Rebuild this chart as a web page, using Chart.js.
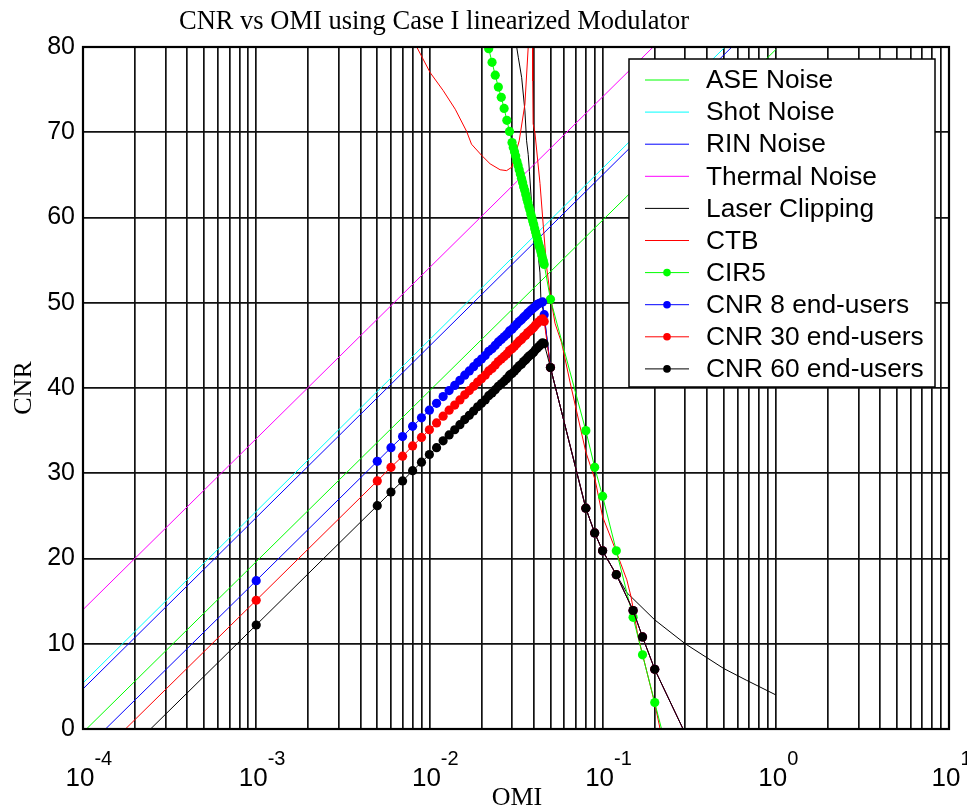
<!DOCTYPE html>
<html>
<head>
<meta charset="utf-8">
<script src="https://cdn.jsdelivr.net/npm/chart.js@4.4.1/dist/chart.umd.min.js"></script>
<style>
  html, body { margin: 0; padding: 0; background: #fff; }
  #wrap { width: 967px; height: 811px; }
</style>
</head>
<body>
<div id="wrap"><canvas id="chart" width="967" height="811"></canvas></div>
<script>
// ---- data (x = OMI, y = CNR in dB) ----
const seriesNames = ['ASE Noise', 'Shot Noise', 'RIN Noise', 'Thermal Noise', 'Laser Clipping',
                     'CTB', 'CIR5', 'CNR 8 end-users', 'CNR 30 end-users', 'CNR 60 end-users'];

const aseOmi = [0.0001, 1];
const aseCnr = [-0.4, 79.7];
const shotOmi = [0.0001, 1];
const shotCnr = [5.4, 85.9];
const rinOmi = [0.0001, 1];
const rinCnr = [4.7, 85.1];
const thermalOmi = [0.0001, 1];
const thermalCnr = [14.0, 94.2];

const clipOmi = [0.0316, 0.0319, 0.0326, 0.0341, 0.0356, 0.0364, 0.0372, 0.0378, 0.0389, 0.0416, 0.0435,
                 0.0440, 0.0460, 0.05, 0.08, 0.09, 0.10, 0.12, 0.138, 0.20, 0.30, 0.50, 0.68, 1.0];
const clipCnr = [82.0, 80.0, 78.8, 76.4, 72.5, 69.0, 67.4, 65.4, 61.6, 57.4, 53.5,
                 50.6, 48.4, 42.4, 25.9, 23.0, 20.9, 18.1, 16.0, 12.8, 10.0, 7.1, 5.7, 4.0];

const ctbOmi = [0.0080, 0.00845, 0.0101, 0.0120, 0.0141, 0.0164, 0.0175, 0.0200, 0.0224, 0.0256, 0.0279,
                0.0299, 0.0330, 0.0356, 0.0372, 0.0380, 0.0393, 0.0395, 0.0397, 0.0407, 0.0435, 0.0455,
                0.0475, 0.0497, 0.0531, 0.058, 0.065, 0.080, 0.0906, 0.100, 0.120, 0.138, 0.146, 0.160,
                0.200, 0.220];
const ctbCnr = [82.0, 80.0, 77.0, 74.9, 72.7, 70.1, 68.6, 67.3, 66.3, 65.6, 65.5,
                65.9, 69.0, 73.3, 80.0, 84.0, 84.0, 76.0, 71.0, 69.9, 64.0, 58.9,
                54.2, 51.1, 47.6, 45.3, 40.6, 32.5, 29.2, 24.9, 20.8, 17.5, 15.5, 10.9,
                3.0, -1.0];

const cirOmi = [0.021, 0.022, 0.023, 0.024, 0.025, 0.026, 0.027, 0.028, 0.029,
                0.0300, 0.0305, 0.0310, 0.0315, 0.0320, 0.0325, 0.0330, 0.0335, 0.0340, 0.0345,
                0.0350, 0.0355, 0.0360, 0.0365, 0.0370, 0.0375, 0.0380, 0.0385, 0.0390, 0.0395,
                0.0400, 0.0405, 0.0410, 0.0415, 0.0420, 0.0425, 0.0430, 0.0435, 0.0440, 0.0445,
                0.0450, 0.0455, 0.0460,
                0.05, 0.08, 0.09, 0.10, 0.12, 0.15, 0.17, 0.20, 0.30];
const cirCnr = [81.5, 79.8, 78.2, 76.7, 75.3, 74.1, 72.8, 71.4, 70.1,
                68.8, 68.2, 67.7, 67.2, 66.6, 66.1, 65.6, 65.1, 64.6, 64.1,
                63.6, 63.2, 62.7, 62.2, 61.8, 61.3, 60.9, 60.4, 60.0, 59.6,
                59.2, 58.7, 58.3, 57.9, 57.5, 57.1, 56.7, 56.4, 56.0, 55.6,
                55.2, 54.9, 54.5,
                50.4, 35.0, 30.7, 27.3, 20.9, 13.1, 8.7, 3.1, -10.8];

const cnrOmi = [0.0001, 0.001,
                0.005, 0.006, 0.007, 0.008, 0.009, 0.010, 0.011, 0.012, 0.013, 0.014,
                0.015, 0.016, 0.017, 0.018, 0.019, 0.020, 0.021, 0.022, 0.023, 0.024,
                0.025, 0.026, 0.027, 0.028, 0.029, 0.030, 0.031, 0.032, 0.033, 0.034,
                0.035, 0.036, 0.037, 0.038, 0.039, 0.040, 0.041, 0.042, 0.043, 0.044,
                0.045, 0.046,
                0.05, 0.08, 0.09, 0.10, 0.12, 0.15, 0.17, 0.20, 0.35];
const cnr8 = [-2.6, 17.4,
              31.4, 33.0, 34.3, 35.5, 36.5, 37.4, 38.2, 39.0, 39.7, 40.3,
              40.9, 41.5, 42.0, 42.5, 43.0, 43.4, 43.8, 44.3, 44.6, 45.0,
              45.4, 45.7, 46.0, 46.3, 46.7, 46.9, 47.2, 47.5, 47.8, 48.0,
              48.3, 48.5, 48.8, 49.0, 49.2, 49.4, 49.6, 49.8, 49.9, 50.0,
              50.1, 48.6,
              42.4, 25.9, 23.0, 20.9, 18.1, 13.9, 10.8, 7.0, -3.4];
const cnr30 = [-4.9, 15.1,
               29.1, 30.7, 32.0, 33.2, 34.2, 35.1, 35.9, 36.7, 37.4, 38.0,
               38.6, 39.2, 39.7, 40.2, 40.7, 41.1, 41.5, 42.0, 42.3, 42.7,
               43.1, 43.4, 43.7, 44.0, 44.4, 44.6, 44.9, 45.2, 45.5, 45.7,
               46.0, 46.2, 46.5, 46.7, 46.9, 47.1, 47.4, 47.6, 47.8, 48.0,
               48.1, 47.8,
               42.4, 25.9, 23.0, 20.9, 18.1, 13.9, 10.8, 7.0, -3.4];
const cnr60 = [-7.8, 12.2,
               26.2, 27.8, 29.1, 30.3, 31.3, 32.2, 33.0, 33.8, 34.5, 35.1,
               35.7, 36.3, 36.8, 37.3, 37.8, 38.2, 38.6, 39.1, 39.4, 39.8,
               40.2, 40.5, 40.8, 41.1, 41.5, 41.7, 42.0, 42.3, 42.6, 42.8,
               43.1, 43.3, 43.6, 43.8, 44.0, 44.2, 44.5, 44.7, 44.9, 45.1,
               45.3, 45.2,
               42.4, 25.9, 23.0, 20.9, 18.1, 13.9, 10.8, 7.0, -3.4];

// axis ticks
const xDecades = [0.0001, 0.001, 0.01, 0.1, 1, 10];
const xDecadeExp = ['-4', '-3', '-2', '-1', '0', '1'];
const yTicks = [0, 10, 20, 30, 40, 50, 60, 70, 80];

// ---- chart ----
const pts = (xs, ys) => xs.map((x, i) => ({ x: x, y: ys[i] }));

const xGrid = [];
xDecades.forEach((d, i) => {
  if (i === xDecades.length - 1) { xGrid.push(d); return; }
  for (let m = 1; m <= 9; m++) xGrid.push(+(m * d).toPrecision(6));
});

function line(label, xs, ys, color, marker) {
  return {
    label: label,
    data: pts(xs, ys),
    showLine: true,
    borderColor: color,
    backgroundColor: color,
    borderWidth: 1,
    pointRadius: marker ? 4.6 : 0,
    pointBorderWidth: 0,
    pointBackgroundColor: color,
    tension: 0,
    clip: 0
  };
}

const datasets = [
  line(seriesNames[0], aseOmi, aseCnr, '#00ff00', false),
  line(seriesNames[1], shotOmi, shotCnr, '#00ffff', false),
  line(seriesNames[2], rinOmi, rinCnr, '#0000ff', false),
  line(seriesNames[3], thermalOmi, thermalCnr, '#ff00ff', false),
  line(seriesNames[4], clipOmi, clipCnr, '#000000', false),
  line(seriesNames[5], ctbOmi, ctbCnr, '#ff0000', false),
  line(seriesNames[6], cirOmi, cirCnr, '#00ff00', true),
  line(seriesNames[7], cnrOmi, cnr8, '#0000ff', true),
  line(seriesNames[8], cnrOmi, cnr30, '#ff0000', true),
  line(seriesNames[9], cnrOmi, cnr60, '#000000', true)
];
// later series drawn on top, like the plot order
datasets.forEach((d, i) => { d.order = datasets.length - i; });

const SANS = '"Liberation Sans", Arial, Helvetica, sans-serif';
const SERIF = '"Liberation Serif", "Times New Roman", Times, serif';

const decorations = {
  id: 'decorations',
  beforeDraw(chart) {
    const ctx = chart.ctx;
    ctx.save();
    ctx.fillStyle = '#fff';
    ctx.fillRect(0, 0, chart.width, chart.height);
    ctx.restore();
  },
  afterDraw(chart) {
    const ctx = chart.ctx;
    const a = chart.chartArea;
    const xs = chart.scales.x;
    ctx.save();

    // frame
    ctx.strokeStyle = '#000';
    ctx.lineWidth = 2.2;
    ctx.strokeRect(a.left, a.top, a.right - a.left, a.bottom - a.top);

    // x tick labels 10^n
    ctx.fillStyle = '#000';
    ctx.textBaseline = 'alphabetic';
    ctx.textAlign = 'left';
    xDecades.forEach((v, i) => {
      const px = xs.getPixelForValue(v);
      ctx.font = '26px ' + SANS;
      const w1 = ctx.measureText('10').width;
      const x0 = px - w1 / 2 - 3;
      ctx.fillText('10', x0, 786);
      ctx.font = '20px ' + SANS;
      ctx.fillText(xDecadeExp[i], x0 + w1, 765);
    });

    // title and axis titles
    ctx.textAlign = 'center';
    ctx.font = '26.5px ' + SERIF;
    ctx.fillText('CNR vs OMI using Case I linearized Modulator', 434, 29);
    ctx.font = '26px ' + SERIF;
    ctx.fillText('OMI', 517, 805);
    ctx.save();
    ctx.translate(31, 388);
    ctx.rotate(-Math.PI / 2);
    ctx.fillText('CNR', 0, 0);
    ctx.restore();

    // legend box
    const lx = 629, ly = 59, lw = 306, lh = 328;
    ctx.fillStyle = '#fff';
    ctx.fillRect(lx, ly, lw, lh);
    ctx.strokeStyle = '#000';
    ctx.lineWidth = 1.5;
    ctx.strokeRect(lx, ly, lw, lh);
    ctx.textAlign = 'left';
    ctx.textBaseline = 'middle';
    ctx.font = '26.3px ' + SANS;
    chart.data.datasets.forEach((d, i) => {
      const y = 80 + i * 32.1;
      ctx.strokeStyle = d.borderColor;
      ctx.lineWidth = 1;
      ctx.beginPath();
      ctx.moveTo(645, y);
      ctx.lineTo(689, y);
      ctx.stroke();
      if (d.pointRadius > 0) {
        ctx.fillStyle = d.pointBackgroundColor;
        ctx.beginPath();
        ctx.arc(667, y, 3.8, 0, Math.PI * 2);
        ctx.fill();
      }
      ctx.fillStyle = '#000';
      ctx.fillText(d.label, 706, y + 1);
    });
    ctx.restore();
  }
};

new Chart(document.getElementById('chart'), {
  type: 'scatter',
  data: { datasets: datasets },
  options: {
    responsive: false,
    animation: false,
    devicePixelRatio: 1,
    events: [],
    layout: { padding: { left: 0, right: 18, top: 47, bottom: 0 } },
    plugins: {
      legend: { display: false },
      title: { display: false },
      tooltip: { enabled: false }
    },
    scales: {
      x: {
        type: 'logarithmic',
        min: 0.0001,
        max: 10,
        border: { display: false },
        grid: { color: '#111', lineWidth: 1.7, drawTicks: false },
        ticks: { display: false },
        afterBuildTicks: axis => { axis.ticks = xGrid.map(v => ({ value: v })); },
        afterFit: axis => { axis.height = 82; }
      },
      y: {
        type: 'linear',
        min: 0,
        max: 80,
        border: { display: false },
        grid: { color: '#111', lineWidth: 1.7, drawTicks: false },
        ticks: { color: '#000', padding: 8, font: { family: SANS, size: 25 } },
        afterBuildTicks: axis => { axis.ticks = yTicks.map(v => ({ value: v })); },
        afterFit: axis => { axis.width = 83; }
      }
    }
  },
  plugins: [decorations]
});
</script>
</body>
</html>
